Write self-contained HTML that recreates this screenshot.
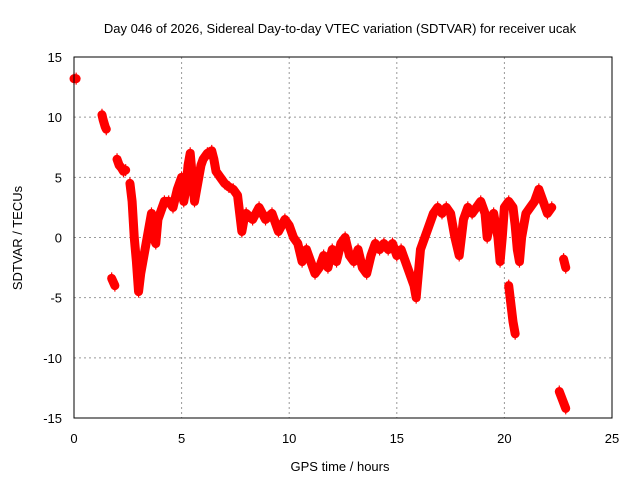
<!DOCTYPE html>
<html><head><meta charset="utf-8"><style>
body{margin:0;background:#fff}
svg text{font-family:"Liberation Sans",sans-serif;font-size:13px;fill:#000}
</style></head><body>
<svg id="chart" width="640" height="480" viewBox="0 0 640 480" xmlns="http://www.w3.org/2000/svg">
<rect width="640" height="480" fill="#fff"/>
<text x="340" y="33" text-anchor="middle">Day 046 of 2026, Sidereal Day-to-day VTEC variation (SDTVAR) for receiver ucak</text>
<g id="grid"></g><g id="ticks"></g><g id="series"></g>
<rect x="74" y="57" width="538" height="361" fill="none" stroke="#000" stroke-width="1"/>
<text x="340" y="471" text-anchor="middle">GPS time / hours</text>
<text x="0" y="0" text-anchor="middle" transform="translate(22,238) rotate(-90)">SDTVAR / TECUs</text>
</svg>
<script>
const xTicks=[0,5,10,15,20,25];
const yTicks=[-15,-10,-5,0,5,10,15];
const segTimes=[
[0,0.1],
[1.3,1.35,1.4,1.45,1.5],
[1.75,1.85,1.9],
[2.0,2.1,2.2,2.3,2.4],
[2.6,2.7,2.8,2.9,3.0,3.1,3.2,3.3,3.4,3.5,3.6,3.7,3.8,3.9,4.0,4.2,4.4,4.6,4.8,5.0,5.1,5.2,5.3,5.4,5.5,5.6,5.7,5.8,5.9,6.0,6.2,6.4,6.5,6.6,6.8,7.0,7.2,7.4,7.6,7.7,7.8,7.9,8.0,8.3,8.6,8.9,9.2,9.5,9.8,10.0,10.2,10.4,10.6,10.8,11.0,11.2,11.4,11.6,11.8,12.0,12.2,12.4,12.6,12.8,13.0,13.2,13.4,13.6,13.8,14.0,14.2,14.4,14.6,14.8,15.0,15.2,15.4,15.6,15.8,15.9,16.0,16.1,16.3,16.5,16.7,16.9,17.1,17.3,17.5,17.7,17.9,18.1,18.3,18.5,18.7,18.9,19.1,19.2,19.3,19.5,19.7,19.8,19.9,20.0,20.2,20.4,20.5,20.6,20.7,20.8,20.9,21.0,21.2,21.4,21.6,21.8,22.0,22.2],
[20.2,20.3,20.4,20.5],
[22.75,22.85],
[22.55,22.7,22.85]];
const segValues=[
[13.2,13.2],
[10.2,9.8,9.5,9.2,9.0],
[-3.4,-3.8,-4],
[6.5,6.0,5.8,5.5,5.6],
[4.5,3,0,-2,-4.5,-3,-2,-1,0,1,2,0,-0.5,1.5,2,3,3,2.5,4,5,3,4,6,7,5,3,4,5,6,6.5,7,7.2,6.5,5.5,5,4.5,4.2,4,3.5,2,0.5,1.5,2,1.5,2.5,1.5,2,0.5,1.5,1,0,-0.5,-2,-1,-2,-3,-2.5,-1.5,-2.5,-1,-2,-0.5,0,-1.5,-2,-1,-2.5,-3,-1.5,-0.5,-1,-0.5,-1,-0.5,-1.5,-1,-2,-3,-4,-5,-3,-1,0,1,2,2.5,2,2.5,2,0,-1.5,1.5,2.5,2,2.5,3,2,0,1,2,0,-2,0,2.5,3,2.5,1,-1,-2,0,1,2,2.5,3,4,3,2,2.5],
[-4,-5.5,-7,-8],
[-1.8,-2.5],
[-12.8,-13.5,-14.2]];
const X=t=>74+t*(538/25), Y=v=>237.5-v*(361/30);
const NS='http://www.w3.org/2000/svg';
const g=document.getElementById('grid'),tk=document.getElementById('ticks'),s=document.getElementById('series');
function mk(tag,attrs,parent){const e=document.createElementNS(NS,tag);for(const k in attrs)e.setAttribute(k,attrs[k]);parent.appendChild(e);return e;}
xTicks.forEach(t=>{
 if(t>0&&t<25){const l=mk('line',{x1:X(t),x2:X(t),y1:57,y2:418,stroke:'#999','stroke-dasharray':'2,3'},g);
 
 }
 const tx=mk('text',{x:X(t),y:443,'text-anchor':'middle'},tk);tx.textContent=t;
 
 
});
yTicks.forEach(v=>{
 if(v>-15&&v<15){const l=mk('line',{x1:74,x2:612,y1:Y(v),y2:Y(v),stroke:'#999','stroke-dasharray':'2,3'},g);
 
 }
 const tx=mk('text',{x:62,y:Y(v)+5,'text-anchor':'end'},tk);tx.textContent=v;
 
 
});
segTimes.forEach((ts,i)=>{
 const vs=segValues[i];
 const pl=mk('polyline',{points:ts.map((t,j)=>X(t)+','+Y(vs[j])).join(' '),fill:'none',stroke:'#f00','stroke-width':9,'stroke-linejoin':'round','stroke-linecap':'round'},s);
 
 
 ts.forEach((t,j)=>{
  const x=X(t),y=Y(vs[j]);
  const p=mk('path',{d:`M${x-4},${y}H${x+4}M${x},${y-6}V${y+6}`,stroke:'#f00','stroke-width':1.2},s);
  
  
 });
});
</script>
</body></html>
